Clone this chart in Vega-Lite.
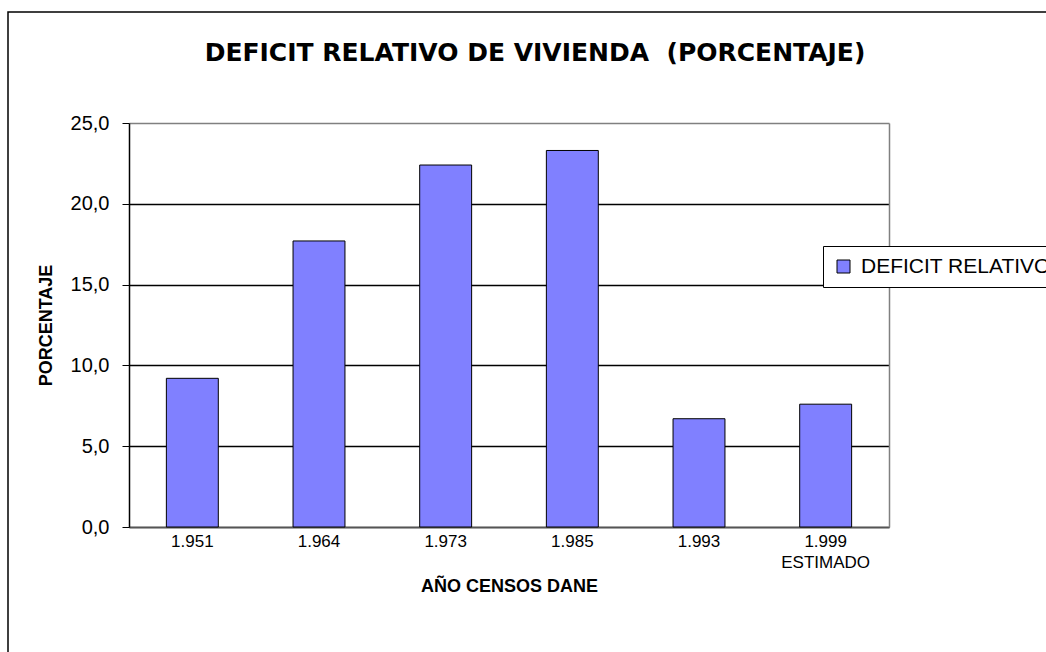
{
  "$schema": "https://vega.github.io/schema/vega-lite/v6.json",
  "width": 1042,
  "height": 644,
  "autosize": {"type": "none"},
  "padding": {"left": 8, "top": 12, "right": -4, "bottom": -4},
  "background": "white",
  "title": {
    "text": "DEFICIT RELATIVO DE VIVIENDA \u00a0(PORCENTAJE)",
    "font": "DejaVu Sans",
    "fontSize": 25,
    "fontWeight": "bold",
    "color": "black",
    "anchor": "middle",
    "frame": "group",
    "dx": 6,
    "offset": -54
  },
  "data": {
    "values": [
      {"anio": "1.951", "valor": 9.2, "serie": "DEFICIT RELATIVO"},
      {"anio": "1.964", "valor": 17.7, "serie": "DEFICIT RELATIVO"},
      {"anio": "1.973", "valor": 22.4, "serie": "DEFICIT RELATIVO"},
      {"anio": "1.985", "valor": 23.3, "serie": "DEFICIT RELATIVO"},
      {"anio": "1.993", "valor": 6.7, "serie": "DEFICIT RELATIVO"},
      {"anio": "1.999", "valor": 7.6, "serie": "DEFICIT RELATIVO"}
    ]
  },
  "encoding": {
    "x": {
      "field": "anio",
      "type": "nominal",
      "sort": null,
      "scale": {"range": [121, 881], "paddingInner": 0.59, "paddingOuter": 0.295},
      "axis": {
        "offset": -129,
        "title": "AÑO CENSOS DANE",
        "titleFont": "Liberation Sans",
        "titleFontSize": 18,
        "titleFontWeight": "bold",
        "titleColor": "black",
        "titlePadding": 7,
        "labelAngle": 0,
        "labelFont": "Liberation Sans",
        "labelFontSize": 17,
        "labelColor": "black",
        "labelPadding": 6,
        "labelLineHeight": 21,
        "labelExpr": "datum.value == '1.999' ? ['1.999', 'ESTIMADO'] : datum.value",
        "ticks": false,
        "domainColor": "#555555",
        "domainWidth": 1.5,
        "grid": false
      }
    },
    "y": {
      "field": "valor",
      "type": "quantitative",
      "scale": {"domain": [0, 25], "nice": false, "range": [515, 111]}
    }
  },
  "layer": [
    {
      "mark": {"type": "bar", "stroke": "black", "strokeWidth": 1},
      "encoding": {
        "y": {
          "field": "valor",
          "type": "quantitative",
          "axis": {
            "orient": "left",
            "offset": -121,
            "title": "PORCENTAJE",
            "titleFont": "Liberation Sans",
            "titleFontSize": 18,
            "titleFontWeight": "bold",
            "titleColor": "black",
            "titlePadding": 15,
            "values": [0, 5, 10, 15, 20, 25],
            "labelExpr": "replace(format(datum.value, '.1f'), '.', ',')",
            "labelFont": "Liberation Sans",
            "labelFontSize": 20,
            "labelColor": "black",
            "labelPadding": 13,
            "tickColor": "black",
            "tickSize": 7,
            "domainColor": "black",
            "domainWidth": 1.5,
            "gridColor": {"condition": {"test": "datum.value === 25", "value": "#808080"}, "value": "black"},
            "gridOpacity": 1,
            "gridWidth": 1.5
          }
        },
        "color": {
          "field": "serie",
          "type": "nominal",
          "scale": {"range": ["#8080FF"]},
          "legend": {
            "title": null,
            "orient": "none",
            "legendX": 815,
            "legendY": 234,
            "symbolType": "square",
            "symbolSize": 169,
            "symbolStrokeColor": "black",
            "symbolStrokeWidth": 1,
            "symbolOpacity": 1,
            "labelFont": "Liberation Sans",
            "labelFontSize": 21,
            "labelColor": "black",
            "labelLimit": 400,
            "labelOffset": 7,
            "strokeColor": "black",
            "fillColor": "white",
            "padding": 10
          }
        }
      }
    },
    {
      "mark": {"type": "point", "opacity": 0},
      "encoding": {
        "y": {
          "field": "valor",
          "type": "quantitative",
          "axis": {
            "orient": "right",
            "offset": -161,
            "title": null,
            "labels": false,
            "ticks": false,
            "grid": false,
            "domainColor": "#808080",
            "domainWidth": 1.5
          }
        }
      }
    }
  ],
  "resolve": {"axis": {"y": "independent"}},
  "config": {
    "view": {"stroke": "black", "strokeWidth": 1.5}
  }
}
